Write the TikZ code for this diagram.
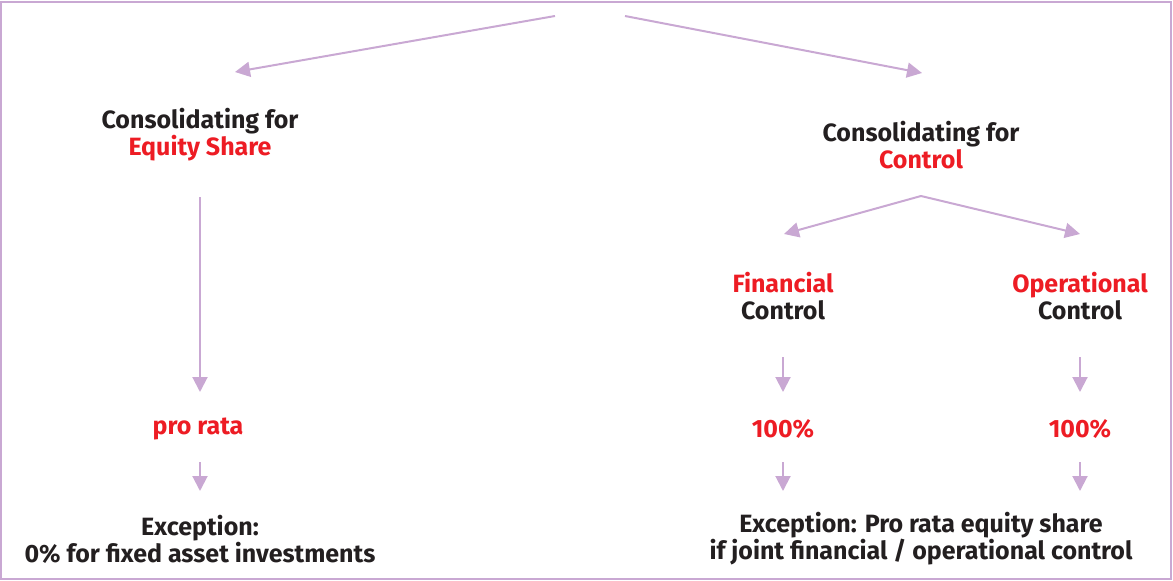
\documentclass[tikz,border=0pt]{standalone}
\usepackage{fontspec}
\setmainfont{Fira Sans}
\usetikzlibrary{arrows.meta}
\definecolor{lilac}{RGB}{201,168,211}
\definecolor{hired}{RGB}{237,28,36}
\definecolor{ink}{RGB}{35,31,32}

\begin{document}
\begin{tikzpicture}[x=1pt,y=-1pt,
  lbl/.style={align=center,font=\fontsize{25}{27}\selectfont\bfseries,text=ink,inner sep=0pt},
  arr/.style={draw=lilac,line width=2pt,-{Triangle[length=15pt,width=15pt]}}]
\useasboundingbox (0,0) rectangle (1173,581);
\draw[lilac,line width=2pt] (1,2) rectangle (1171,579);
% text
\node[lbl] (eq)at(200,135) {Consolidating for\\\textcolor{hired}{Equity Share}};
\node[lbl] (ctrl)at(921,145) {Consolidating for\\\textcolor{hired}{Control}};
\node[lbl] (fin)at(783,296) {\textcolor{hired}{Financial}\\Control};
\node[lbl] (ops)at(1080,296) {\textcolor{hired}{Operational}\\Control};
\node[lbl,text=hired] (prorata)at(198,429) {pro rata};
\node[lbl,text=hired] (finpct)at(783,429) {100\%};
\node[lbl,text=hired] (opspct)at(1080,429) {100\%};
\node[lbl] (eqexc)at(200,539) {Exception:\\0\% for fixed asset investments};
\node[lbl] (ctrlexc)at(921,539) {Exception: Pro rata equity share\\if joint financial / operational control};
% split points
\coordinate (splitL)at(555,16);
\coordinate (splitR)at(625,16);
\coordinate (eqin)at(235,72);
\coordinate (ctrlin)at(922,73);
\coordinate (ctrlsplit)at(921,196);
\coordinate (finin)at(784,234);
\coordinate (opsin)at(1080,234);
\draw[arr] (splitL) -- (eqin);
\draw[arr] (splitR) -- (ctrlin);
\draw[arr] (ctrlsplit) -- (finin);
\draw[arr] (ctrlsplit) -- (opsin);
\draw[arr,shorten <=62pt,shorten >=37pt] (eq.center) -- (eq.center|-prorata.center);
\draw[arr,shorten <=61pt,shorten >=37pt] (fin.center) -- (finpct.center);
\draw[arr,shorten <=61pt,shorten >=37pt] (ops.center) -- (opspct.center);
\draw[arr,shorten <=33pt,shorten >=48pt] (eq.center|-prorata.center) -- (eqexc.center);
\draw[arr,shorten <=33pt,shorten >=48pt] (finpct.center) -- (finpct.center|-eqexc.center);
\draw[arr,shorten <=33pt,shorten >=48pt] (opspct.center) -- (opspct.center|-eqexc.center);
\end{tikzpicture}
\end{document}
